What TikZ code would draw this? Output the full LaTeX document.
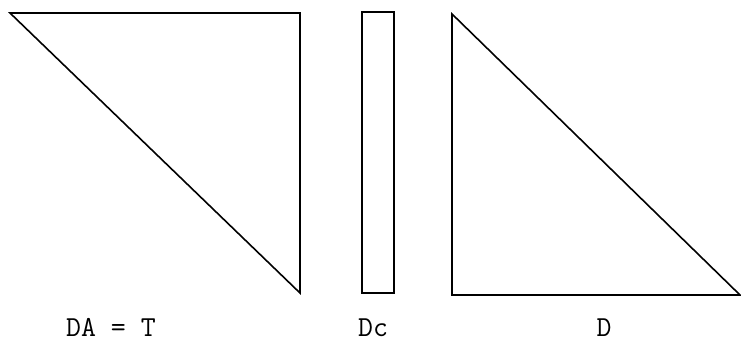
\documentclass[tikz,border=0pt]{standalone}
\usepackage{tikz}
\tikzset{
  edgeline/.style={line width=1.6pt, black, line join=miter},
  labeltext/.style={font=\ttfamily\fontsize{29}{32}\selectfont, anchor=base, inner sep=0pt}
}
\begin{document}
\begin{tikzpicture}[x=1pt, y=-1pt]
  \useasboundingbox (0,0) rectangle (741,344);
  %% Left: upper triangle
  \draw[edgeline] (10,13) -- (300,13) -- (300,293) -- cycle;
  \node[labeltext] (labA) at (111,337) {DA = T};

  %% Middle: narrow column
  \draw[edgeline] (362,12) rectangle (394,293);
  \node[labeltext] (labC) at (373,337) {Dc};

  %% Right: lower triangle
  \draw[edgeline] (452,14) -- (452,295) -- (740,295) -- cycle;
  \node[labeltext] (labD) at (604,337) {D};
\end{tikzpicture}
\end{document}
